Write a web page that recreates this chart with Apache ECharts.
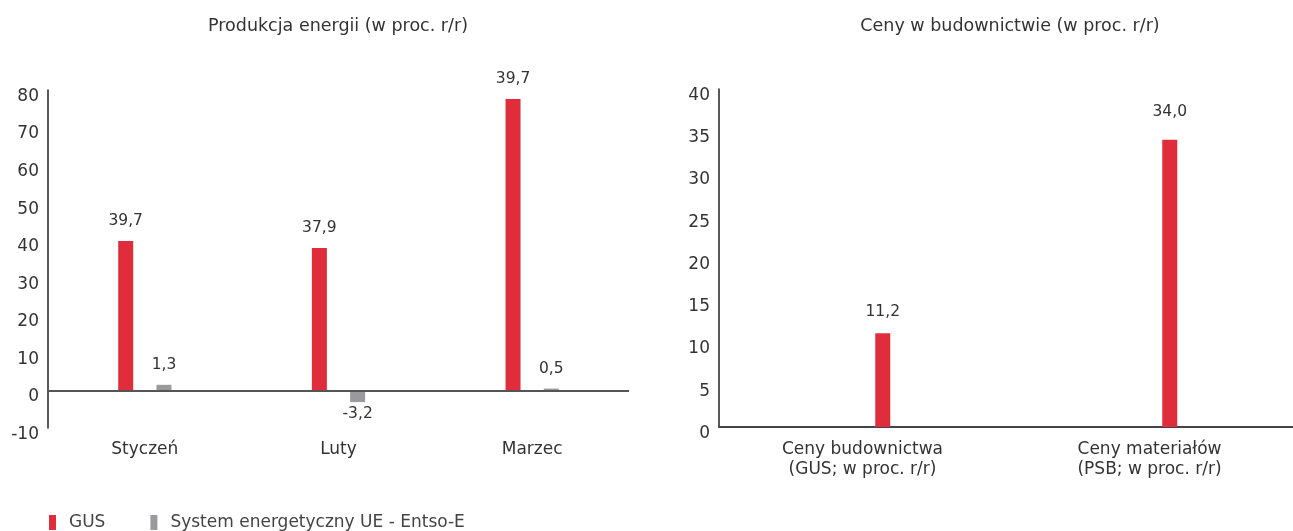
<!DOCTYPE html>
<html>
<head>
<meta charset="utf-8">
<script src="https://cdn.jsdelivr.net/npm/echarts@6/dist/echarts.min.js"></script>
<style>
html,body{margin:0;padding:0;background:#fff;}
#c{width:1293px;height:531px;}
</style>
</head>
<body>
<div id="c"></div>
<script>
// ---- data ----
var energyCategories = ['Styczeń', 'Luty', 'Marzec'];
var gusValues = [39.8, 37.9, 77.6];
var gusLabels = ['39,7', '37,9', '39,7'];
var entsoValues = [1.5, -3.1, 0.5];
var entsoLabels = ['1,3', '-3,2', '0,5'];
var energyTicks = [-10, 0, 10, 20, 30, 40, 50, 60, 70, 80];

var buildCategories = ['Ceny budownictwa\n(GUS; w proc. r/r)', 'Ceny materiałów\n(PSB; w proc. r/r)'];
var buildValues = [11.1, 34.0];
var buildLabels = ['11,2', '34,0'];
var buildTicks = [0, 5, 10, 15, 20, 25, 30, 35, 40];

var seriesNames = ['GUS', 'System energetyczny UE - Entso-E'];
var titles = ['Produkcja energii (w proc. r/r)', 'Ceny w budownictwie (w proc. r/r)'];

// ---- chart ----
var FONT = '"DejaVu Sans", "Noto Sans", sans-serif';
var RED = '#E02D3B';
var GRAY = '#9A9A9E';
var TXT = '#333333';

function withLabels(values, labels, extra) {
  return values.map(function (v, i) {
    return {
      value: v,
      label: { position: v < 0 ? 'bottom' : 'top', distance: v < 0 ? 4 : 12 + (extra ? extra[i] : 0), formatter: labels[i] }
    };
  });
}

var labelStyle = { show: true, color: TXT, fontSize: 15.5, fontFamily: FONT };

var chart = echarts.init(document.getElementById('c'), null, { renderer: 'canvas' });
chart.setOption({
  animation: false,
  backgroundColor: '#ffffff',
  title: [
    { text: titles[0], left: 333, top: 12, textAlign: 'center',
      textStyle: { fontFamily: FONT, fontSize: 17.5, fontWeight: 'normal', color: TXT } },
    { text: titles[1], left: 1005, top: 12, textAlign: 'center',
      textStyle: { fontFamily: FONT, fontSize: 17.5, fontWeight: 'normal', color: TXT } }
  ],
  legend: {
    data: seriesNames,
    left: 44, top: 509,
    icon: 'rect', itemWidth: 7, itemHeight: 15, itemGap: 45,
    textStyle: { fontFamily: FONT, fontSize: 17, color: '#444', padding: [0, 0, 0, 8] }
  },
  grid: [
    { left: 48, right: 664, top: 90, bottom: 103 },
    { left: 719, right: -6, top: 89, bottom: 104 }
  ],
  xAxis: [
    { type: 'category', gridIndex: 0, data: energyCategories,
      axisLine: { show: false, onZero: false }, axisTick: { show: false },
      axisLabel: { margin: 13, fontSize: 17, color: TXT, fontFamily: FONT } },
    { type: 'category', gridIndex: 1, data: buildCategories,
      axisLine: { show: true, lineStyle: { color: '#444', width: 2 } }, axisTick: { show: false },
      axisLabel: { margin: 13, fontSize: 17, color: TXT, fontFamily: FONT, lineHeight: 20, interval: 0 } }
  ],
  yAxis: [
    { type: 'value', gridIndex: 0, min: energyTicks[0], max: energyTicks[energyTicks.length - 1], interval: 10,
      axisLine: { show: true, lineStyle: { color: '#222', width: 1.5 } }, axisTick: { show: false },
      splitLine: { show: false },
      axisLabel: { margin: 9, fontSize: 17, color: TXT, fontFamily: FONT, verticalAlign: 'top', lineHeight: 13 } },
    { type: 'value', gridIndex: 1, min: buildTicks[0], max: buildTicks[buildTicks.length - 1], interval: 5,
      axisLine: { show: true, lineStyle: { color: '#222', width: 1.5 } }, axisTick: { show: false },
      splitLine: { show: false },
      axisLabel: { margin: 9, fontSize: 17, color: TXT, fontFamily: FONT, verticalAlign: 'top', lineHeight: 13 } }
  ],
  series: [
    { name: seriesNames[0], type: 'bar', xAxisIndex: 0, yAxisIndex: 0,
      data: withLabels(gusValues, gusLabels), barWidth: 15, barGap: '155%',
      itemStyle: { color: RED }, label: labelStyle,
      markLine: { silent: true, symbol: 'none', label: { show: false },
        lineStyle: { color: '#555', width: 2, type: 'solid' }, data: [{ yAxis: 0 }] } },
    { name: seriesNames[1], type: 'bar', xAxisIndex: 0, yAxisIndex: 0,
      data: withLabels(entsoValues, entsoLabels), barWidth: 15, barGap: '155%',
      itemStyle: { color: GRAY }, label: labelStyle },
    { name: 'placeholder', type: 'bar', xAxisIndex: 1, yAxisIndex: 1,
      data: ['-', '-'], barWidth: 15, barGap: '170%', itemStyle: { color: 'transparent' } },
    { name: seriesNames[0], type: 'bar', xAxisIndex: 1, yAxisIndex: 1,
      data: withLabels(buildValues, buildLabels, [1, 8]), barWidth: 15, barGap: '170%',
      itemStyle: { color: RED }, label: labelStyle }
  ]
});
</script>
</body>
</html>
